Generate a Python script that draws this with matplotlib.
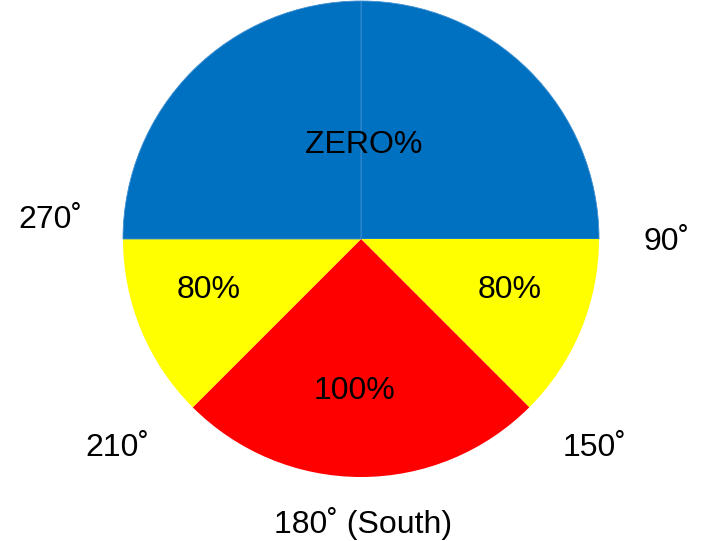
import matplotlib.pyplot as plt

plt.rcParams['font.family'] = ['Liberation Sans', 'DejaVu Sans']

# slices clockwise from north (degrees of arc)
sizes = [90, 45, 90, 45, 90]
colors = ['#0070C0', '#FFFF00', '#FF0000', '#FFFF00', '#0070C0']

# slice labels and where they sit (pixel positions)
pct_labels = ['ZERO%', '80%', '100%', '80%']
pct_pos = [(364, 145), (510, 290), (354, 391), (209, 290)]

# direction labels around the circle
dir_labels = ['90˚', '150˚', '180˚ (South)', '210˚', '270˚']
dir_pos = [(667, 242), (595, 448), (363, 523), (117, 448), (50, 220)]

W, H = 705, 541
fig = plt.figure(figsize=(W / 100, H / 100), dpi=100)
ax = fig.add_axes([0, 0, 1, 1])

wedges, _ = ax.pie(sizes, colors=colors, startangle=90, counterclock=False,
                   center=(361, H - 239), radius=238, frame=True,
                   wedgeprops=dict(linewidth=0))
# faint seam between the two blue slices
for w in (wedges[0], wedges[4]):
    w.set_edgecolor('#3f8fd2')
    w.set_linewidth(0.6)
ax.set_xlim(0, W)
ax.set_ylim(0, H)
ax.set_aspect('equal')
ax.axis('off')

for t, (x, y) in zip(pct_labels, pct_pos):
    ax.text(x, H - y, t, ha='center', va='center', fontsize=23, color='black')
for t, (x, y) in zip(dir_labels, dir_pos):
    ax.text(x, H - y, t, ha='center', va='center', fontsize=23, color='black')

fig.savefig('out.png', dpi=100)
